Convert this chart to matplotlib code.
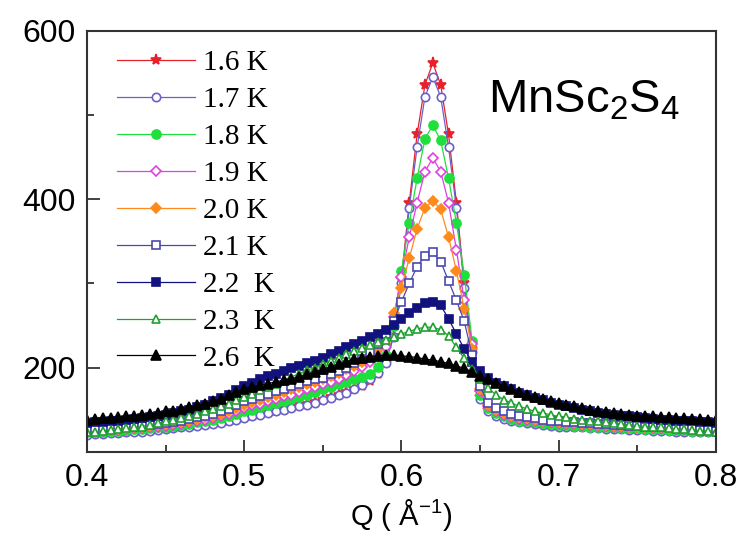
import numpy as np
import matplotlib
matplotlib.use('Agg')
import matplotlib.pyplot as plt
from matplotlib.ticker import MultipleLocator

plt.rcParams['font.family'] = ['Liberation Sans', 'DejaVu Sans']

# Q grid of the scan (A^-1), 0.005 steps
q = np.round(np.arange(0.400, 0.8001, 0.005), 3)

labels = ['1.6 K', '1.7 K', '1.8 K', '1.9 K', '2.0 K', '2.1 K', '2.2  K', '2.3  K', '2.6  K']

t16 = [121, 122, 122, 123, 123, 124, 125, 125, 126, 127,
       128, 129, 130, 131, 132, 133, 134, 136, 137, 139,
       141, 143, 145, 147, 149, 151, 153, 155, 157, 159,
       162, 165, 168, 171, 174, 178, 184, 192, 206, 238,
       305, 396, 477, 536, 562, 536, 477, 396, 300, 222,
       165, 150, 144, 140, 138, 136, 135, 134, 133, 132,
       131, 131, 130, 130, 129, 129, 128, 128, 128, 127,
       127, 127, 126, 126, 126, 125, 125, 125, 124, 124, 124]
t17 = [120, 121, 121, 122, 122, 123, 124, 124, 125, 126,
       127, 128, 129, 130, 131, 132, 133, 134, 136, 138,
       140, 142, 144, 146, 148, 150, 152, 154, 156, 158,
       161, 164, 167, 170, 174, 179, 186, 194, 206, 236,
       300, 390, 462, 522, 545, 522, 462, 390, 295, 218,
       163, 149, 143, 139, 137, 135, 134, 133, 132, 131,
       130, 130, 129, 129, 128, 128, 127, 127, 127, 126,
       126, 126, 125, 125, 125, 124, 124, 124, 123, 123, 123]
t18 = [123, 124, 124, 125, 125, 126, 127, 127, 128, 129,
       130, 131, 132, 133, 135, 136, 138, 140, 142, 145,
       148, 150, 153, 155, 158, 160, 163, 165, 168, 171,
       174, 177, 180, 183, 186, 189, 193, 201, 215, 250,
       315, 372, 425, 472, 488, 470, 425, 372, 310, 232,
       168, 152, 146, 142, 139, 137, 136, 135, 134, 133,
       132, 132, 131, 131, 130, 130, 129, 129, 128, 128,
       128, 127, 127, 127, 126, 126, 126, 125, 125, 125, 125]
t19 = [124, 125, 125, 126, 126, 127, 128, 128, 129, 130,
       131, 132, 133, 135, 136, 138, 140, 142, 145, 148,
       152, 155, 157, 160, 163, 166, 168, 171, 174, 177,
       180, 183, 187, 191, 196, 201, 207, 214, 225, 260,
       308, 355, 396, 433, 449, 433, 396, 340, 280, 228,
       172, 154, 148, 144, 141, 139, 138, 137, 136, 135,
       134, 133, 133, 132, 132, 131, 131, 130, 130, 129,
       129, 129, 128, 128, 128, 127, 127, 127, 126, 126, 126]
t20 = [125, 126, 126, 127, 127, 128, 129, 130, 131, 132,
       133, 134, 135, 137, 139, 141, 143, 145, 148, 152,
       156, 159, 162, 165, 168, 171, 174, 177, 180, 183,
       186, 190, 194, 198, 202, 207, 213, 222, 238, 265,
       295, 330, 365, 390, 398, 388, 355, 315, 270, 222,
       175, 156, 150, 146, 143, 141, 140, 138, 137, 136,
       135, 134, 134, 133, 133, 132, 132, 131, 131, 130,
       130, 130, 129, 129, 128, 128, 128, 127, 127, 127, 126]
t21 = [126, 127, 127, 128, 128, 129, 130, 131, 132, 133,
       134, 135, 137, 139, 141, 143, 145, 148, 151, 155,
       160, 163, 166, 169, 172, 175, 178, 181, 184, 186,
       188, 192, 196, 200, 205, 210, 218, 228, 240, 255,
       278, 300, 320, 333, 337, 326, 303, 280, 255, 215,
       178, 158, 152, 148, 145, 143, 141, 140, 138, 137,
       136, 135, 135, 134, 134, 133, 133, 132, 132, 131,
       131, 130, 130, 130, 129, 129, 128, 128, 128, 127, 127]
t22 = [134, 135, 135, 136, 137, 138, 139, 140, 141, 142,
       144, 146, 148, 150, 153, 156, 160, 164, 168, 173,
       178, 182, 186, 190, 193, 196, 199, 202, 205, 208,
       212, 216, 220, 224, 228, 232, 236, 240, 245, 251,
       258, 265, 271, 277, 278, 274, 258, 240, 222, 207,
       196, 188, 182, 178, 174, 170, 167, 164, 161, 158,
       156, 154, 152, 150, 148, 146, 145, 144, 143, 142,
       141, 140, 139, 138, 138, 137, 136, 136, 135, 135, 134]
t23 = [123, 124, 125, 126, 127, 128, 129, 130, 132, 134,
       136, 138, 140, 142, 145, 148, 151, 154, 157, 161,
       165, 169, 173, 177, 181, 185, 189, 193, 197, 200,
       204, 208, 212, 216, 220, 223, 227, 230, 233, 236,
       240, 243, 246, 248, 248, 245, 238, 224, 211, 198,
       186, 176, 168, 162, 158, 154, 151, 148, 146, 144,
       142, 141, 139, 138, 137, 136, 135, 134, 133, 132,
       131, 130, 129, 129, 128, 127, 127, 126, 125, 125, 124]
t26 = [138, 139, 140, 140, 141, 142, 143, 144, 145, 146,
       148, 149, 151, 153, 155, 157, 160, 163, 167, 171,
       175, 177, 179, 181, 183, 185, 187, 189, 192, 195,
       198, 201, 204, 207, 210, 212, 213, 214, 215, 215,
       214, 213, 212, 210, 209, 207, 205, 202, 199, 195,
       190, 186, 182, 178, 175, 171, 168, 165, 163, 160,
       158, 156, 154, 152, 150, 148, 147, 146, 145, 144,
       143, 143, 142, 141, 141, 140, 140, 139, 139, 138, 138]

series = [t16, t17, t18, t19, t20, t21, t22, t23, t26]
colors = ['#e8202a', '#6a60c8', '#1ee03c', '#e040e0', '#ff8a1c',
          '#4a48b0', '#12127e', '#20a030', '#000000']
markers = ['*', 'o', 'o', 'D', 'D', 's', 's', '^', '^']
filled = [True, False, True, False, True, False, True, False, True]
msizes = [8, 6, 6.5, 5.5, 5.5, 5.5, 5.5, 6, 6.5]

fig = plt.figure(figsize=(7.44, 5.43), dpi=100)
ax = fig.add_axes([0.117, 0.168, 0.845, 0.775])

for y, lab, c, m, f, ms in zip(series, labels, colors, markers, filled, msizes):
    ax.plot(q, y, color=c, lw=0.9, marker=m, ms=ms,
            mfc=c if f else 'white', mec=c, mew=1.2, label=lab)

ax.set_xlim(0.4, 0.8)
ax.set_ylim(100, 600)
ax.xaxis.set_major_locator(MultipleLocator(0.1))
ax.xaxis.set_minor_locator(MultipleLocator(0.05))
ax.yaxis.set_major_locator(MultipleLocator(200))
ax.yaxis.set_minor_locator(MultipleLocator(100))
ax.tick_params(which='both', direction='in', top=False, right=False,
               labelsize=23, width=1.3, color='#333333')
ax.tick_params(which='major', length=9, pad=8)
ax.tick_params(which='minor', length=5)
for s in ax.spines.values():
    s.set_linewidth(1.5)
    s.set_color('#333333')

ax.set_xlabel('Q ( Å$\\mathregular{^{-1}}$)', fontsize=21, labelpad=3)

ax.text(0.79, 0.835, '$\\mathregular{MnSc_2S_4}$', transform=ax.transAxes,
        fontsize=34, ha='center', va='center')

ax.legend(loc='upper left', bbox_to_anchor=(0.048, 0.955), frameon=False,
          prop={'family': 'Liberation Serif', 'size': 21},
          handlelength=2.67, handletextpad=0.28, labelspacing=0.36,
          borderaxespad=0, borderpad=0, numpoints=1)

fig.savefig('out.png', dpi=100)
